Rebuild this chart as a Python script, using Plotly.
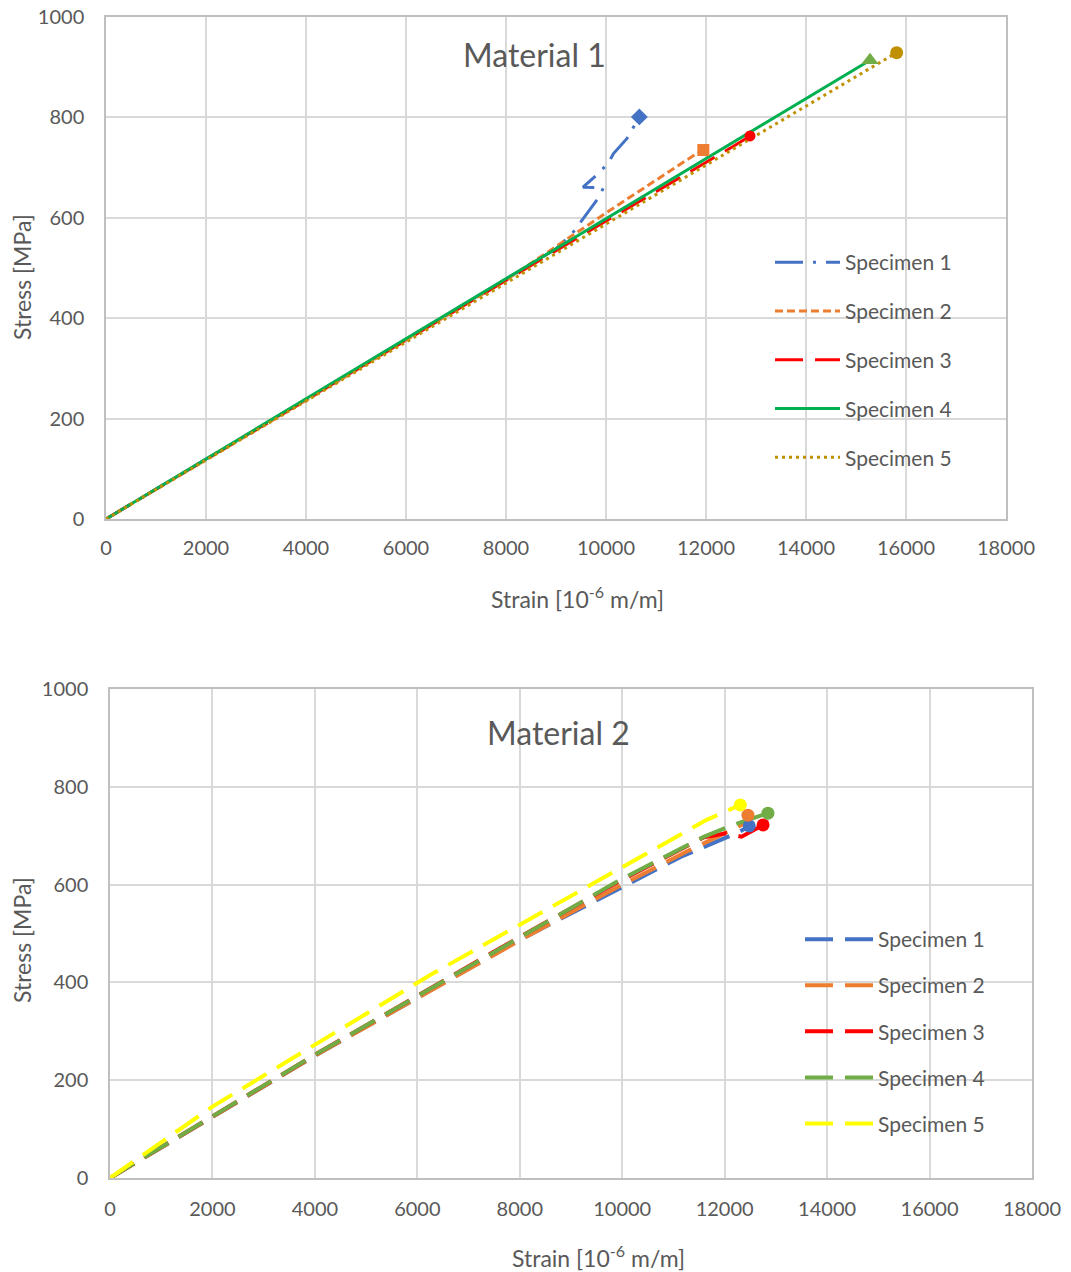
import plotly.graph_objects as go

W, H = 1071, 1272

# ---------------- Material 1 ----------------
m1_names = ["Specimen 1", "Specimen 2", "Specimen 3", "Specimen 4", "Specimen 5"]
m1_s1_strain = [0, 4500, 9000, 9350, 9850, 9950, 9540, 9820, 10040, 10150, 10420, 10667]
m1_s1_stress = [0, 268, 538, 572, 640, 660, 661, 686, 708, 728, 758, 801]
m1_s2_strain = [0, 4000, 8000, 10080, 11813, 11947]
m1_s2_stress = [0, 236, 476, 615, 728, 735]
m1_s3_strain = [0, 9410, 12540, 12880]
m1_s3_stress = [0, 559, 742, 763]
m1_s4_strain = [0, 8280, 15280]
m1_s4_stress = [0, 496, 914]
m1_s5_strain = [0, 8280, 13880, 15813]
m1_s5_stress = [0, 486, 815, 929]

# ---------------- Material 2 ----------------
m2_names = ["Specimen 1", "Specimen 2", "Specimen 3", "Specimen 4", "Specimen 5"]
m2_s1_strain = [0, 4000, 8000, 11150, 12290, 12480]
m2_s1_stress = [0, 250, 487, 657, 708, 720]
m2_s2_strain = [0, 4000, 8000, 10000, 11250, 12350, 12455]
m2_s2_stress = [0, 250, 486, 600, 667, 723, 742]
m2_s3_strain = [0, 4000, 8000, 10000, 11600, 12030, 12330, 12750]
m2_s3_stress = [0, 252, 493, 610, 697, 705, 698, 722]
m2_s4_strain = [0, 4000, 8000, 10000, 11600, 12160, 12845]
m2_s4_stress = [0, 252, 492, 612, 698, 722, 746]
m2_s5_strain = [0, 2000, 6300, 9750, 11640, 12306]
m2_s5_stress = [0, 146, 418, 622, 732, 763]

x_ticks = list(range(0, 18001, 2000))
y_ticks = list(range(0, 1001, 200))

FONT = "Lato"
GREY = "#595959"

fig = go.Figure()

m1_series = [
    (m1_s1_strain, m1_s1_stress, "#4472C4", "28px,10px,3px,10px", 3, "diamond", 13),
    (m1_s2_strain, m1_s2_stress, "#ED7D31", "8px,4px", 3, "square", 12),
    (m1_s3_strain, m1_s3_stress, "#FF0000", "28px,12px", 3, "circle", 11),
    (m1_s4_strain, m1_s4_stress, "#00B050", "solid", 3, "triangle-up", 15),
    (m1_s5_strain, m1_s5_stress, "#BF9000", "3px,4px", 3, "circle", 13),
]
m1_marker_colors = ["#4472C4", "#ED7D31", "#FF0000", "#70AD47", "#BF9000"]

for i, (xs, ys, col, dash, lw, sym, ms) in enumerate(m1_series):
    fig.add_trace(go.Scatter(
        x=xs, y=ys, mode="lines", name=m1_names[i],
        line=dict(color=col, width=lw, dash=dash),
        legendgroup=f"m1_{i}", legend="legend",
        xaxis="x", yaxis="y",
    ))
for i, (xs, ys, col, dash, lw, sym, ms) in enumerate(m1_series):
    fig.add_trace(go.Scatter(
        x=[xs[-1]], y=[ys[-1]], mode="markers", showlegend=False,
        marker=dict(color=m1_marker_colors[i], symbol=sym, size=ms),
        xaxis="x", yaxis="y", hoverinfo="skip",
    ))

m2_series = [
    (m2_s1_strain, m2_s1_stress, "#4472C4"),
    (m2_s2_strain, m2_s2_stress, "#ED7D31"),
    (m2_s3_strain, m2_s3_stress, "#FF0000"),
    (m2_s4_strain, m2_s4_stress, "#70AD47"),
    (m2_s5_strain, m2_s5_stress, "#FFFF00"),
]
for i, (xs, ys, col) in enumerate(m2_series):
    fig.add_trace(go.Scatter(
        x=xs, y=ys, mode="lines", name=m2_names[i],
        line=dict(color=col, width=4, dash="28px,12px"),
        legendgroup=f"m2_{i}", legend="legend2",
        xaxis="x2", yaxis="y2",
    ))
for i, (xs, ys, col) in enumerate(m2_series):
    fig.add_trace(go.Scatter(
        x=[xs[-1]], y=[ys[-1]], mode="markers", showlegend=False,
        marker=dict(color=col, symbol="circle", size=13),
        xaxis="x2", yaxis="y2", hoverinfo="skip",
    ))

axis_common = dict(
    showgrid=True, gridcolor="#D9D9D9", gridwidth=1.5,
    showline=True, linecolor="#BFBFBF", linewidth=1.5, mirror=True,
    zeroline=False, ticks="", automargin=False, tickformat="d",
    tickfont=dict(family=FONT, size=20, color=GREY),
)

fig.update_layout(
    width=W, height=H,
    margin=dict(l=0, r=0, t=0, b=0, autoexpand=False),
    paper_bgcolor="white", plot_bgcolor="white",
    font=dict(family=FONT, color=GREY),
    xaxis=dict(domain=[106 / W, 1006 / W], range=[0, 18000], tickvals=x_ticks,
               ticklabelstandoff=10, anchor="y", **axis_common),
    yaxis=dict(domain=[1 - 519 / H, 1 - 17 / H], range=[0, 1000], tickvals=y_ticks,
               ticklabelstandoff=16, anchor="x", **axis_common),
    xaxis2=dict(domain=[110 / W, 1032 / W], range=[0, 18000], tickvals=x_ticks,
                ticklabelstandoff=12, anchor="y2", **axis_common),
    yaxis2=dict(domain=[1 - 1178 / H, 1 - 689 / H], range=[0, 1000], tickvals=y_ticks,
                ticklabelstandoff=16, anchor="x2", **axis_common),
    legend=dict(x=770 / W, y=1 - 242 / H, xanchor="left", yanchor="top",
                bgcolor="rgba(0,0,0,0)", font=dict(family=FONT, size=21, color=GREY),
                itemwidth=65, tracegroupgap=18.5, traceorder="grouped"),
    legend2=dict(x=800 / W, y=1 - 919 / H, xanchor="left", yanchor="top",
                 bgcolor="rgba(0,0,0,0)", font=dict(family=FONT, size=21, color=GREY),
                 itemwidth=68, tracegroupgap=15.8, traceorder="grouped"),
    showlegend=True,
)

annotations = [
    dict(text="Material 1", x=534 / W, y=1 - 54 / H, font=dict(size=32)),
    dict(text="Material 2", x=558 / W, y=1 - 732 / H, font=dict(size=32)),
    dict(text="Strain [10<sup>-6</sup> m/m]", x=577 / W, y=1 - 597 / H, font=dict(size=23)),
    dict(text="Strain [10<sup>-6</sup> m/m]", x=598 / W, y=1 - 1256 / H, font=dict(size=23)),
    dict(text="Stress [MPa]", x=22 / W, y=1 - 277 / H, font=dict(size=23), textangle=-90),
    dict(text="Stress [MPa]", x=22 / W, y=1 - 940 / H, font=dict(size=23), textangle=-90),
]
for a in annotations:
    a.update(xref="paper", yref="paper", showarrow=False,
             xanchor="center", yanchor="middle")
    a["font"].update(family=FONT, color=GREY)
fig.update_layout(annotations=annotations)

fig.write_html("out.html")
